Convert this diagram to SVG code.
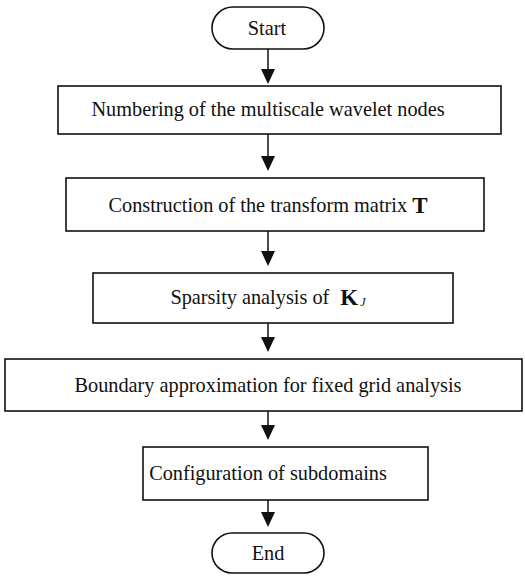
<svg xmlns="http://www.w3.org/2000/svg" width="525" height="580" viewBox="0 0 525 580">
<style>
.box{fill:#fff;stroke:#111;stroke-width:1.6}
.t{font-family:"Liberation Serif","Times New Roman",serif;font-size:20.3px;fill:#111;text-anchor:middle;dominant-baseline:central}
.b{font-weight:bold;font-size:23px}
.ln{stroke:#111;stroke-width:1.5;fill:none}
.ah{fill:#111}
</style>
<rect width="525" height="580" fill="#fff"/>
<g id="connectors">
<line class="ln" x1="268" y1="49" x2="268" y2="80"/>
<line class="ln" x1="268" y1="134" x2="268" y2="168"/>
<line class="ln" x1="268" y1="231" x2="268" y2="263"/>
<line class="ln" x1="268" y1="323" x2="268" y2="349"/>
<line class="ln" x1="268" y1="411" x2="268" y2="437"/>
<line class="ln" x1="268" y1="500" x2="268" y2="524"/>
<path class="ah" d="M261,69 L275,69 L268,84 Z"/>
<path class="ah" d="M261,156 L275,156 L268,171 Z"/>
<path class="ah" d="M261,251 L275,251 L268,266 Z"/>
<path class="ah" d="M261,337 L275,337 L268,352 Z"/>
<path class="ah" d="M261,425 L275,425 L268,440 Z"/>
<path class="ah" d="M261,512 L275,512 L268,527 Z"/>
</g>
<g id="start">
<rect class="box" x="212" y="7" width="112" height="42" rx="21"/>
<text class="t" x="267" y="28">Start</text>
</g>
<g id="n1">
<rect class="box" x="58" y="86" width="443" height="48"/>
<text class="t" x="268" y="109">Numbering of the multiscale wavelet nodes</text>
</g>
<g id="n2">
<rect class="box" x="66" y="178" width="418" height="53"/>
<text class="t" x="268" y="205">Construction of the transform matrix <tspan class="b">T</tspan></text>
</g>
<g id="n3">
<rect class="box" x="93" y="273" width="360" height="50"/>
<text class="t" x="268" y="297">Sparsity analysis of <tspan class="b" dx="6">K</tspan><tspan font-size="12" font-style="italic" dx="2" dy="5">J</tspan></text>
</g>
<g id="n4">
<rect class="box" x="5" y="359" width="517" height="52"/>
<text class="t" x="268" y="385">Boundary approximation for fixed grid analysis</text>
</g>
<g id="n5">
<rect class="box" x="143" y="447" width="285" height="53"/>
<text class="t" x="268" y="473">Configuration of subdomains</text>
</g>
<g id="end">
<rect class="box" x="212" y="533" width="112" height="40" rx="20"/>
<text class="t" x="268" y="553">End</text>
</g>
</svg>
